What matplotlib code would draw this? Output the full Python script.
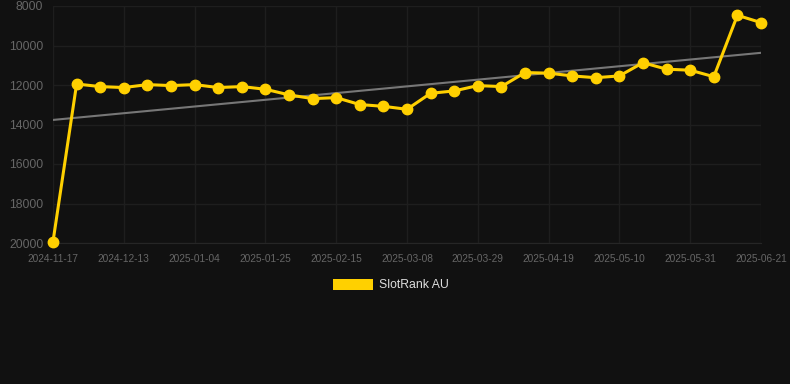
import numpy as np
import matplotlib
matplotlib.use("Agg")
import matplotlib.pyplot as plt
from matplotlib.patches import Rectangle

# weekly rank of the game, lower is better (axis is inverted)
ranks = [19930, 11950, 12080, 12130, 11980, 12030, 11980, 12130, 12080, 12215,
         12500, 12690, 12640, 12990, 13080, 13230, 12420, 12300, 12030, 12080,
         11370, 11400, 11540, 11630, 11540, 10870, 11200, 11250, 11580, 8470,
         8840]
tick_labels = ["2024-11-17", "2024-12-13", "2025-01-04", "2025-01-25",
               "2025-02-15", "2025-03-08", "2025-03-29", "2025-04-19",
               "2025-05-10", "2025-05-31", "2025-06-21"]
y_ticks = [8000, 10000, 12000, 14000, 16000, 18000, 20000]
series_name = "SlotRank AU"

bg = "#111111"
gold = "#ffd000"
grid_color = "#1e1e1e"
tick_color = "#666666"

plt.rcParams["font.family"] = ["Liberation Sans", "DejaVu Sans"]

fig = plt.figure(figsize=(7.9, 3.84), dpi=100, facecolor=bg)
ax = fig.add_axes([53 / 790, 1 - 243 / 384, (761 - 53) / 790, (243 - 6) / 384])
ax.set_facecolor(bg)

x = np.arange(len(ranks))

# linear trend through the weekly points
slope, intercept = np.polyfit(x, ranks, 1)
ax.plot(x[[0, -1]], slope * x[[0, -1]] + intercept, color="#777777", lw=1.5, zorder=2)

ax.plot(x, ranks, color=gold, lw=2.2, marker="o", markersize=7.5, zorder=3,
        clip_on=False)

ax.set_xlim(0, len(ranks) - 1)
ax.set_ylim(20000, 8000)
ax.set_yticks(y_ticks)
ax.set_yticklabels([str(v) for v in y_ticks])
ax.set_xticks(x[::3])
ax.set_xticklabels(tick_labels)

ax.grid(True, color=grid_color, lw=1)
ax.set_axisbelow(True)
for s in ax.spines.values():
    s.set_visible(False)
ax.spines["bottom"].set_visible(True)
ax.spines["bottom"].set_color("#262626")
ax.tick_params(axis="y", length=0, pad=7, labelsize=8.8, labelcolor=tick_color)
ax.tick_params(axis="x", length=0, pad=8, labelsize=7.3, labelcolor=tick_color)

# legend box under the plot
fig.patches.append(Rectangle((333 / 790, 1 - 290 / 384), 40 / 790, 11 / 384,
                             transform=fig.transFigure, facecolor=gold,
                             edgecolor="none"))
fig.text(379 / 790, 1 - 285 / 384, series_name, color="#dddddd", fontsize=8.8,
         va="center", ha="left")

fig.savefig("out.png", dpi=100, facecolor=bg)
